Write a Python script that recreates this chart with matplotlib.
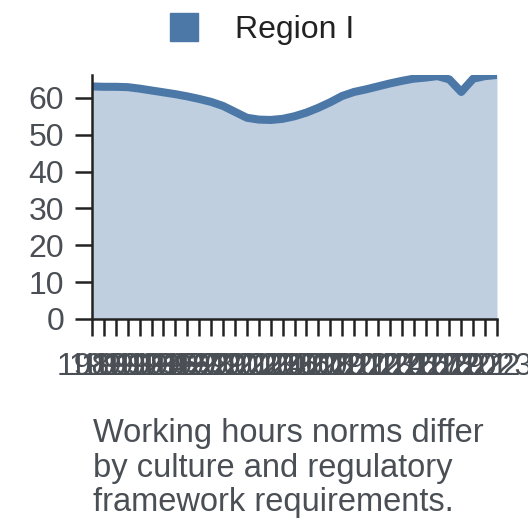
import matplotlib
matplotlib.use("Agg")
import matplotlib.pyplot as plt
from matplotlib.lines import Line2D

years = list(range(1989, 2024))
values = [63.1, 63.0, 63.0, 62.9, 62.5, 62.0, 61.5, 61.0, 60.4, 59.7,
          58.9, 57.8, 56.2, 54.6, 54.1, 54.0, 54.3, 55.0, 56.0, 57.3,
          58.8, 60.5, 61.6, 62.3, 63.1, 63.9, 64.6, 65.2, 65.5, 65.9,
          65.0, 61.6, 65.2, 65.9, 66.2]
series_name = "Region I"
y_ticks = [0, 10, 20, 30, 40, 50, 60]
caption = "Working hours norms differ\nby culture and regulatory\nframework requirements."

plt.rcParams['font.family'] = ['Liberation Sans', 'DejaVu Sans']
color = "#4C78A8"
text_color = "#4a4f55"

fig = plt.figure(figsize=(5.28, 5.28), dpi=100)
ax = fig.add_axes([92/528, 1-319/528, (497-92)/528, (319-75)/528])

ax.fill_between(years, values, 0, color=color, alpha=0.35, linewidth=0)
ax.plot(years, values, color=color, linewidth=5.8, solid_capstyle='butt')

ax.set_xlim(years[0], years[-1])
ax.set_ylim(0, max(values))
ax.set_yticks(y_ticks)
ax.set_xticks(years)
ax.set_xticklabels([str(y) for y in years])

for s in ['top', 'right']:
    ax.spines[s].set_visible(False)
for s in ['left', 'bottom']:
    ax.spines[s].set_color('#222222')
    ax.spines[s].set_linewidth(1.8)

ax.tick_params(axis='both', colors='#222222', labelcolor=text_color,
               labelsize=23, length=12, width=1.8)
ax.tick_params(axis='x', pad=12)
ax.tick_params(axis='y', pad=8)

handle = Line2D([], [], marker='s', linestyle='None', color=color, markersize=19.5)
fig.legend([handle], [series_name], loc='center left', bbox_to_anchor=(168/528, 1-30/528),
           frameon=False, fontsize=23, labelcolor='#222222', handletextpad=1.11,
           borderpad=0, handlelength=1.0, borderaxespad=0)

fig.text(93/528, 1-418/528, caption, ha='left', va='top', fontsize=23.5,
         color=text_color, linespacing=1.15)

fig.savefig("out.png", dpi=100)
